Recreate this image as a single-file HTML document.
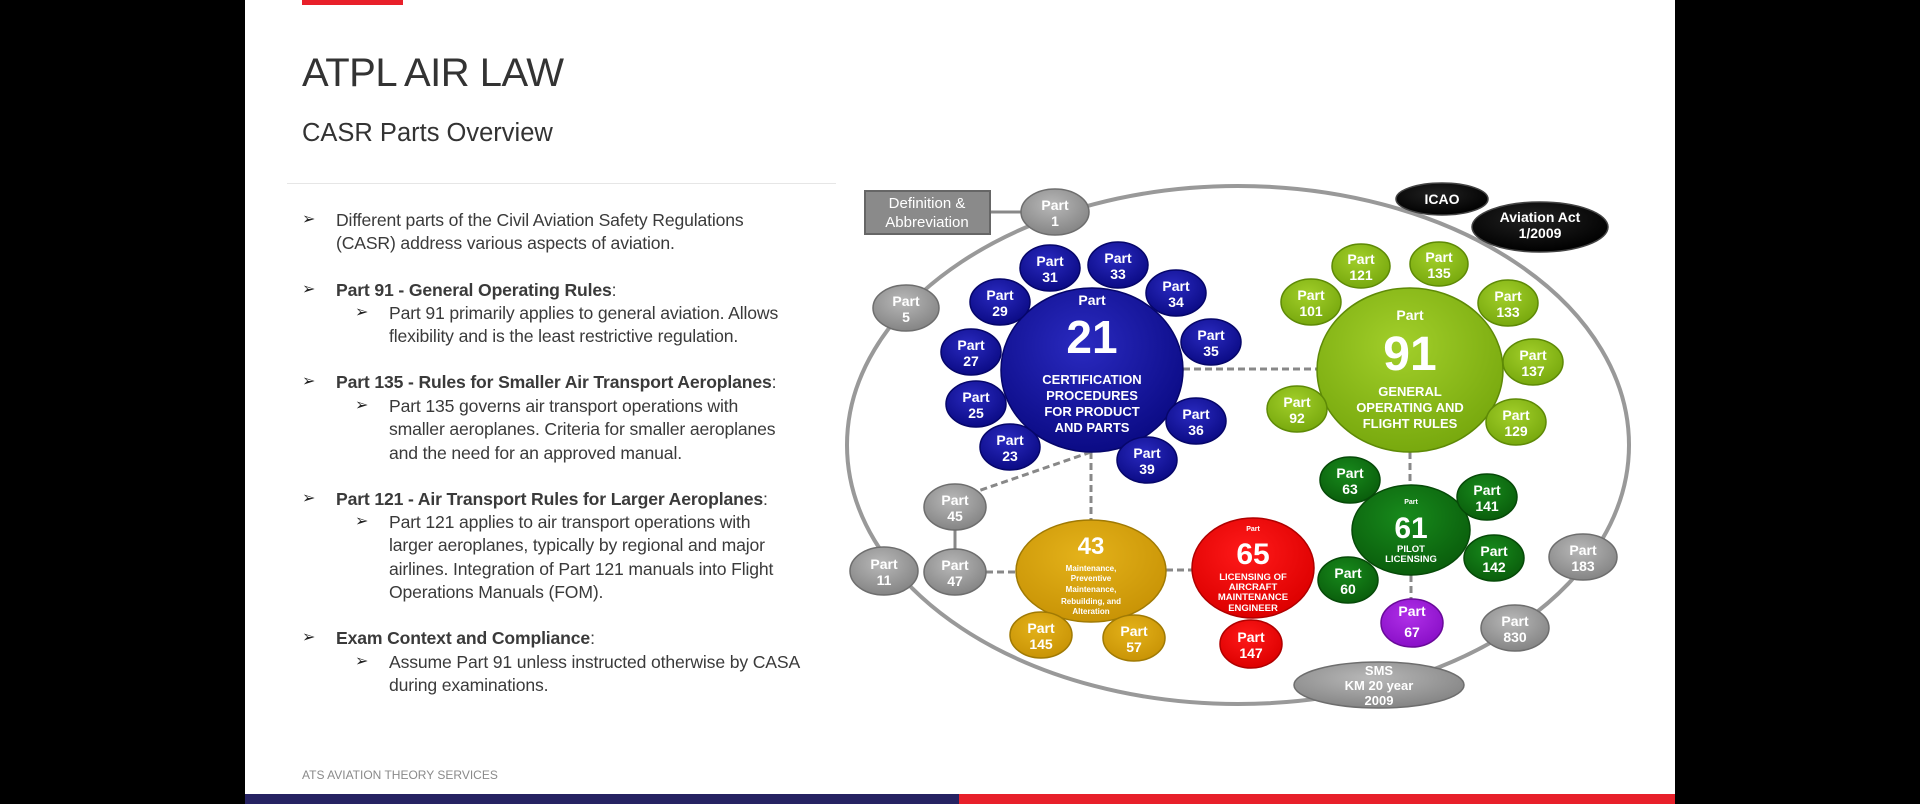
<!DOCTYPE html>
<html><head><meta charset="utf-8"><style>
*{margin:0;padding:0;box-sizing:border-box}
body{width:1920px;height:804px;background:#000;position:relative;overflow:hidden;font-family:"Liberation Sans",sans-serif}
#panel{position:absolute;left:245px;top:0;width:1430px;height:804px;background:#fff}
.t{position:absolute;color:#3a3a3a;font-size:17.6px;line-height:23.3px;white-space:nowrap;letter-spacing:-0.15px}
.b{font-weight:bold}
.ar{position:absolute;font-family:"DejaVu Sans",sans-serif;font-size:16px;color:#222}
svg text{font-family:"Liberation Sans Narrow","Liberation Sans",sans-serif;font-weight:bold;fill:#fff;text-anchor:middle}
.s{font-size:14px}
</style></head><body>
<div id="panel"></div>
<div style="position:absolute;left:302px;top:0;width:101px;height:5px;background:#e8202a"></div>
<div style="position:absolute;left:302px;top:51px;font-size:40px;color:#333;white-space:nowrap;letter-spacing:-0.5px">ATPL AIR LAW</div>
<div style="position:absolute;left:302px;top:119px;font-size:25.5px;color:#333;white-space:nowrap">CASR Parts Overview</div>
<div style="position:absolute;left:287px;top:183px;width:549px;height:1px;background:#e6e6e6"></div>

<div class="ar" style="left:302px;top:209px">➢</div>
<div class="t" style="left:336px;top:209px">Different parts of the Civil Aviation Safety Regulations<br>(CASR) address various aspects of aviation.</div>

<div class="ar" style="left:302px;top:279px">➢</div>
<div class="t" style="left:336px;top:279px"><span class="b">Part 91 - General Operating Rules</span>:</div>
<div class="ar" style="left:355px;top:302px">➢</div>
<div class="t" style="left:389px;top:302px">Part 91 primarily applies to general aviation. Allows<br>flexibility and is the least restrictive regulation.</div>

<div class="ar" style="left:302px;top:371px">➢</div>
<div class="t" style="left:336px;top:371px"><span class="b">Part 135 - Rules for Smaller Air Transport Aeroplanes</span>:</div>
<div class="ar" style="left:355px;top:395px">➢</div>
<div class="t" style="left:389px;top:395px">Part 135 governs air transport operations with<br>smaller aeroplanes. Criteria for smaller aeroplanes<br>and the need for an approved manual.</div>

<div class="ar" style="left:302px;top:488px">➢</div>
<div class="t" style="left:336px;top:488px"><span class="b">Part 121 - Air Transport Rules for Larger Aeroplanes</span>:</div>
<div class="ar" style="left:355px;top:511px">➢</div>
<div class="t" style="left:389px;top:511px">Part 121 applies to air transport operations with<br>larger aeroplanes, typically by regional and major<br>airlines. Integration of Part 121 manuals into Flight<br>Operations Manuals (FOM).</div>

<div class="ar" style="left:302px;top:627px">➢</div>
<div class="t" style="left:336px;top:627px"><span class="b">Exam Context and Compliance</span>:</div>
<div class="ar" style="left:355px;top:651px">➢</div>
<div class="t" style="left:389px;top:651px">Assume Part 91 unless instructed otherwise by CASA<br>during examinations.</div>

<div style="position:absolute;left:302px;top:768px;font-size:12px;color:#8a8a8a;white-space:nowrap">ATS AVIATION THEORY SERVICES</div>
<div style="position:absolute;left:245px;top:794px;width:714px;height:10px;background:#262262"></div>
<div style="position:absolute;left:959px;top:794px;width:716px;height:10px;background:#e8202a"></div>

<svg style="position:absolute;left:0;top:0" width="1920" height="804" viewBox="0 0 1920 804">
<defs>
<radialGradient id="gB" cx="45%" cy="35%" r="65%"><stop offset="0" stop-color="#2a2ac0"/><stop offset="1" stop-color="#0b0b85"/></radialGradient>
<radialGradient id="gL" cx="45%" cy="35%" r="65%"><stop offset="0" stop-color="#a2cf2a"/><stop offset="1" stop-color="#78a90e"/></radialGradient>
<radialGradient id="gD" cx="45%" cy="35%" r="65%"><stop offset="0" stop-color="#188a1c"/><stop offset="1" stop-color="#0a5e0c"/></radialGradient>
<radialGradient id="gY" cx="45%" cy="35%" r="65%"><stop offset="0" stop-color="#e4b21a"/><stop offset="1" stop-color="#c99406"/></radialGradient>
<radialGradient id="gR" cx="45%" cy="35%" r="65%"><stop offset="0" stop-color="#ff1a1a"/><stop offset="1" stop-color="#dd0000"/></radialGradient>
<radialGradient id="gP" cx="45%" cy="35%" r="65%"><stop offset="0" stop-color="#b030e8"/><stop offset="1" stop-color="#8a10c8"/></radialGradient>
<radialGradient id="gG" cx="45%" cy="35%" r="65%"><stop offset="0" stop-color="#b8b8b8"/><stop offset="1" stop-color="#858585"/></radialGradient>
<radialGradient id="gK" cx="45%" cy="35%" r="65%"><stop offset="0" stop-color="#222"/><stop offset="1" stop-color="#000"/></radialGradient>
</defs>
<ellipse cx="1238" cy="445" rx="391" ry="259" fill="none" stroke="#999" stroke-width="4"/>
<line x1="990" y1="212" x2="1022" y2="212" stroke="#888" stroke-width="3"/>
<g stroke="#888" stroke-width="3" stroke-dasharray="7,4" fill="none">
<line x1="1183" y1="369" x2="1318" y2="369"/>
<line x1="1091" y1="452" x2="1091" y2="520"/>
<line x1="1091" y1="452" x2="978" y2="491"/>
<line x1="986" y1="572" x2="1017" y2="572"/>
<line x1="1166" y1="570" x2="1193" y2="570"/>
<line x1="1410" y1="452" x2="1410" y2="487"/>
<line x1="1411" y1="575" x2="1411" y2="600"/>
</g>
<line x1="955" y1="530" x2="955" y2="549" stroke="#888" stroke-width="3"/>

<rect x="865" y="191" width="125" height="43" fill="#8a8a8a" stroke="#666" stroke-width="2"/>
<text x="927" y="208" style="font-weight:normal;font-size:15px">Definition &amp;</text>
<text x="927" y="227" style="font-weight:normal;font-size:15px">Abbreviation</text>

<g stroke="#6e6e6e" stroke-width="1.5" fill="url(#gG)">
<ellipse cx="1055" cy="212" rx="34" ry="23"/>
<ellipse cx="906" cy="308" rx="33" ry="23"/>
<ellipse cx="955" cy="507" rx="31" ry="23"/>
<ellipse cx="955" cy="572" rx="31" ry="23"/>
<ellipse cx="884" cy="571" rx="34" ry="24"/>
<ellipse cx="1583" cy="557" rx="34" ry="23"/>
<ellipse cx="1515" cy="628" rx="34" ry="23"/>
<ellipse cx="1379" cy="685" rx="85" ry="23"/>
</g>
<g stroke="#06066a" stroke-width="1.5" fill="url(#gB)">
<ellipse cx="1092" cy="370" rx="91" ry="82"/>
<ellipse cx="1050" cy="268" rx="30" ry="23"/>
<ellipse cx="1118" cy="265" rx="30" ry="23"/>
<ellipse cx="1176" cy="293" rx="30" ry="23"/>
<ellipse cx="1000" cy="302" rx="30" ry="23"/>
<ellipse cx="971" cy="352" rx="30" ry="23"/>
<ellipse cx="1211" cy="342" rx="30" ry="23"/>
<ellipse cx="976" cy="404" rx="30" ry="23"/>
<ellipse cx="1196" cy="421" rx="30" ry="23"/>
<ellipse cx="1010" cy="447" rx="30" ry="23"/>
<ellipse cx="1147" cy="460" rx="30" ry="23"/>
</g>
<g stroke="#5e8a06" stroke-width="1.5" fill="url(#gL)">
<ellipse cx="1410" cy="370" rx="93" ry="82"/>
<ellipse cx="1361" cy="266" rx="29" ry="22"/>
<ellipse cx="1439" cy="264" rx="29" ry="22"/>
<ellipse cx="1311" cy="302" rx="30" ry="23"/>
<ellipse cx="1508" cy="303" rx="30" ry="23"/>
<ellipse cx="1533" cy="362" rx="30" ry="23"/>
<ellipse cx="1297" cy="409" rx="30" ry="23"/>
<ellipse cx="1516" cy="422" rx="30" ry="23"/>
</g>
<g stroke="#064a08" stroke-width="1.5" fill="url(#gD)">
<ellipse cx="1411" cy="530" rx="59" ry="45"/>
<ellipse cx="1350" cy="480" rx="30" ry="23"/>
<ellipse cx="1487" cy="497" rx="30" ry="23"/>
<ellipse cx="1494" cy="558" rx="30" ry="23"/>
<ellipse cx="1348" cy="580" rx="30" ry="23"/>
</g>
<g stroke="#a07a04" stroke-width="1.5" fill="url(#gY)">
<ellipse cx="1091" cy="571" rx="75" ry="51"/>
<ellipse cx="1041" cy="635" rx="31" ry="23"/>
<ellipse cx="1134" cy="638" rx="31" ry="23"/>
</g>
<g stroke="#b00000" stroke-width="1.5" fill="url(#gR)">
<ellipse cx="1253" cy="568" rx="61" ry="50"/>
<ellipse cx="1251" cy="644" rx="31" ry="24"/>
</g>
<ellipse cx="1412" cy="623" rx="31" ry="24" fill="url(#gP)" stroke="#6a0a9a" stroke-width="1.5"/>
<ellipse cx="1442" cy="199" rx="46" ry="16" fill="url(#gK)" stroke="#444" stroke-width="1.5"/>
<ellipse cx="1540" cy="227" rx="68" ry="25" fill="url(#gK)" stroke="#444" stroke-width="1.5"/>

<g class="s">
<text x="1055" y="210" class="s">Part</text><text x="1055" y="226" class="s">1</text>
<text x="906" y="306" class="s">Part</text><text x="906" y="322" class="s">5</text>
<text x="955" y="505" class="s">Part</text><text x="955" y="521" class="s">45</text>
<text x="955" y="570" class="s">Part</text><text x="955" y="586" class="s">47</text>
<text x="884" y="569" class="s">Part</text><text x="884" y="585" class="s">11</text>
<text x="1583" y="555" class="s">Part</text><text x="1583" y="571" class="s">183</text>
<text x="1515" y="626" class="s">Part</text><text x="1515" y="642" class="s">830</text>
<text x="1050" y="266" class="s">Part</text><text x="1050" y="282" class="s">31</text>
<text x="1118" y="263" class="s">Part</text><text x="1118" y="279" class="s">33</text>
<text x="1176" y="291" class="s">Part</text><text x="1176" y="307" class="s">34</text>
<text x="1000" y="300" class="s">Part</text><text x="1000" y="316" class="s">29</text>
<text x="971" y="350" class="s">Part</text><text x="971" y="366" class="s">27</text>
<text x="1211" y="340" class="s">Part</text><text x="1211" y="356" class="s">35</text>
<text x="976" y="402" class="s">Part</text><text x="976" y="418" class="s">25</text>
<text x="1196" y="419" class="s">Part</text><text x="1196" y="435" class="s">36</text>
<text x="1010" y="445" class="s">Part</text><text x="1010" y="461" class="s">23</text>
<text x="1147" y="458" class="s">Part</text><text x="1147" y="474" class="s">39</text>
<text x="1361" y="264" class="s">Part</text><text x="1361" y="280" class="s">121</text>
<text x="1439" y="262" class="s">Part</text><text x="1439" y="278" class="s">135</text>
<text x="1311" y="300" class="s">Part</text><text x="1311" y="316" class="s">101</text>
<text x="1508" y="301" class="s">Part</text><text x="1508" y="317" class="s">133</text>
<text x="1533" y="360" class="s">Part</text><text x="1533" y="376" class="s">137</text>
<text x="1297" y="407" class="s">Part</text><text x="1297" y="423" class="s">92</text>
<text x="1516" y="420" class="s">Part</text><text x="1516" y="436" class="s">129</text>
<text x="1350" y="478" class="s">Part</text><text x="1350" y="494" class="s">63</text>
<text x="1487" y="495" class="s">Part</text><text x="1487" y="511" class="s">141</text>
<text x="1494" y="556" class="s">Part</text><text x="1494" y="572" class="s">142</text>
<text x="1348" y="578" class="s">Part</text><text x="1348" y="594" class="s">60</text>
<text x="1041" y="633" class="s">Part</text><text x="1041" y="649" class="s">145</text>
<text x="1134" y="636" class="s">Part</text><text x="1134" y="652" class="s">57</text>
<text x="1251" y="642" class="s">Part</text><text x="1251" y="658" class="s">147</text>
<text x="1412" y="616" class="s">Part</text><text x="1412" y="637" class="s">67</text>
<text x="1442" y="204" class="s">ICAO</text>
<text x="1540" y="222" class="s">Aviation Act</text><text x="1540" y="238" class="s">1/2009</text>
<text x="1379" y="675" style="font-size:13px">SMS</text>
<text x="1379" y="690" style="font-size:13px">KM 20 year</text>
<text x="1379" y="705" style="font-size:13px">2009</text>
</g>
<text x="1092" y="305" style="font-size:14px">Part</text>
<text x="1092" y="353" style="font-size:46px">21</text>
<text x="1092" y="384" style="font-size:13px;font-family:'Liberation Sans',sans-serif">CERTIFICATION</text>
<text x="1092" y="400" style="font-size:13px;font-family:'Liberation Sans',sans-serif">PROCEDURES</text>
<text x="1092" y="416" style="font-size:13px;font-family:'Liberation Sans',sans-serif">FOR PRODUCT</text>
<text x="1092" y="432" style="font-size:13px;font-family:'Liberation Sans',sans-serif">AND PARTS</text>

<text x="1410" y="320" style="font-size:14px">Part</text>
<text x="1410" y="370" style="font-size:48px">91</text>
<text x="1410" y="396" style="font-size:13px">GENERAL</text>
<text x="1410" y="412" style="font-size:13px">OPERATING AND</text>
<text x="1410" y="428" style="font-size:13px">FLIGHT RULES</text>

<text x="1091" y="554" style="font-size:24px">43</text>
<text x="1091" y="571" style="font-size:8px">Maintenance,</text>
<text x="1091" y="581" style="font-size:8px">Preventive</text>
<text x="1091" y="592" style="font-size:8px">Maintenance,</text>
<text x="1091" y="604" style="font-size:8px">Rebuilding, and</text>
<text x="1091" y="614" style="font-size:8px">Alteration</text>

<text x="1253" y="531" style="font-size:7px">Part</text>
<text x="1253" y="564" style="font-size:30px">65</text>
<text x="1253" y="580" style="font-size:9.5px">LICENSING OF</text>
<text x="1253" y="590" style="font-size:9.5px">AIRCRAFT</text>
<text x="1253" y="600" style="font-size:9.5px">MAINTENANCE</text>
<text x="1253" y="611" style="font-size:9.5px">ENGINEER</text>

<text x="1411" y="504" style="font-size:7px">Part</text>
<text x="1411" y="538" style="font-size:30px">61</text>
<text x="1411" y="552" style="font-size:9.5px">PILOT</text>
<text x="1411" y="562" style="font-size:9.5px">LICENSING</text>
</svg>
</body></html>
